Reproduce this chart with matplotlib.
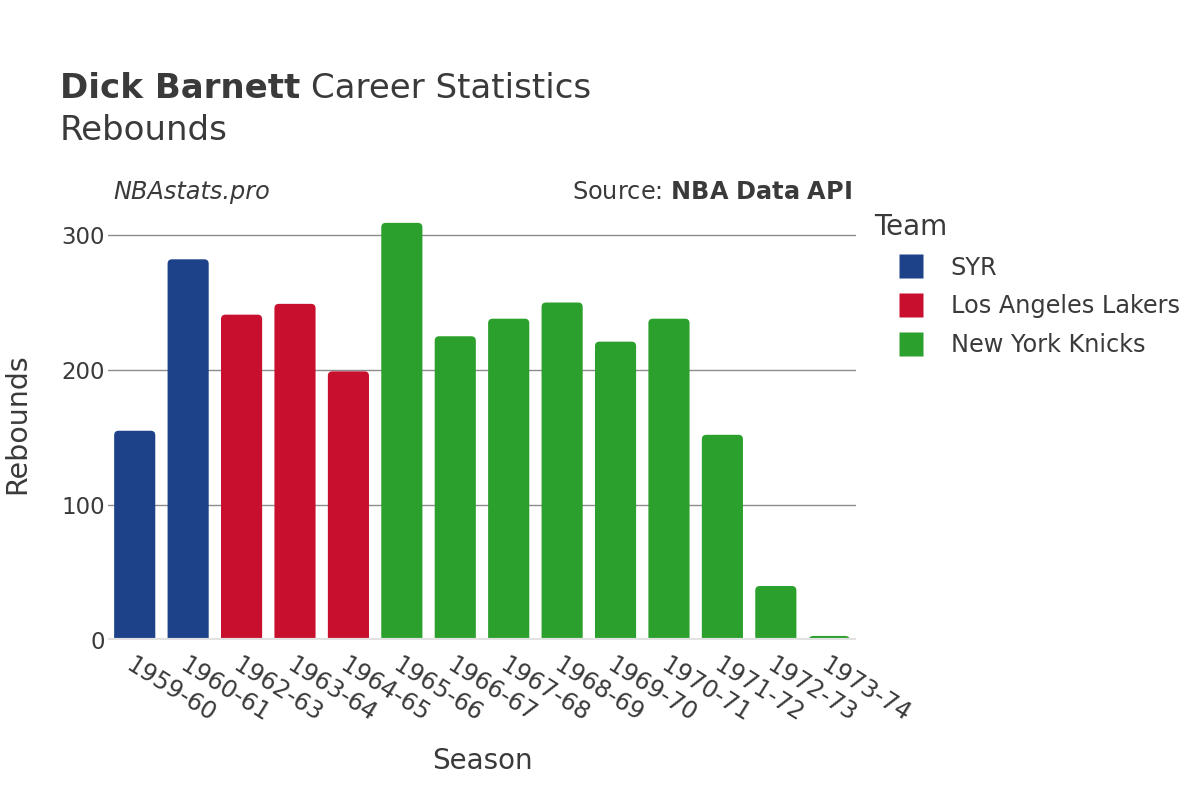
import matplotlib.pyplot as plt
from matplotlib.patches import FancyBboxPatch
from matplotlib.lines import Line2D

# data
seasons = ["1959-60", "1960-61", "1962-63", "1963-64", "1964-65", "1965-66", "1966-67",
           "1967-68", "1968-69", "1969-70", "1970-71", "1971-72", "1972-73", "1973-74"]
rebounds = [155, 282, 241, 249, 199, 309, 225, 238, 250, 221, 238, 152, 40, 3]
teams = ["SYR", "SYR", "Los Angeles Lakers", "Los Angeles Lakers", "Los Angeles Lakers",
         "New York Knicks", "New York Knicks", "New York Knicks", "New York Knicks",
         "New York Knicks", "New York Knicks", "New York Knicks", "New York Knicks",
         "New York Knicks"]
team_order = ["SYR", "Los Angeles Lakers", "New York Knicks"]
team_colors = {"SYR": "#1D428A", "Los Angeles Lakers": "#C8102E", "New York Knicks": "#2CA02C"}

txt = "#3a3a3a"
plt.rcParams['font.family'] = ['DejaVu Sans']

fig = plt.figure(figsize=(12, 8), dpi=100)
ax = fig.add_axes([0.09, 0.2, 0.6233, 0.54])

ymax = 320
x = list(range(len(seasons)))
ax.set_xlim(-0.5, len(seasons) - 0.5)
ax.set_ylim(0, ymax)

# px per data unit, to get round corners that look round
px_x = 0.6233 * 1200 / len(seasons)
px_y = 0.54 * 800 / ymax
r_px = 4.5
bw = 0.77
for i, v in enumerate(rebounds):
    c = team_colors[teams[i]]
    p = FancyBboxPatch((i - bw / 2, -r_px / px_y), bw, v + r_px / px_y,
                       boxstyle="round,pad=0,rounding_size=%f" % (r_px / px_x),
                       mutation_aspect=px_x / px_y, fc=c, ec="none", zorder=3)
    ax.add_patch(p)

ax.set_yticks([0, 100, 200, 300])
ax.yaxis.grid(True, color="#8c8c8c", lw=1, zorder=0)
ax.axhline(0, color="#e2e2e2", lw=3, zorder=4)
for s in ax.spines.values():
    s.set_visible(False)
ax.tick_params(axis="both", length=0, labelcolor=txt)
ax.tick_params(axis="y", pad=2, labelsize=16.5)
ax.set_xticks(x)
ax.set_xticklabels(seasons, rotation=-32, ha="left", va="top", rotation_mode="anchor")
ax.tick_params(axis="x", pad=9, labelsize=17.3)

ax.set_xlabel("Season", fontsize=20, color=txt, labelpad=15)
ax.set_ylabel("Rebounds", fontsize=20.5, color=txt)
ax.yaxis.set_label_coords(-0.103, 0.5)

t1 = fig.text(60 / 1200, 1 - 88 / 800, "Dick Barnett", fontsize=24.5, color=txt, va="center",
              fontweight="bold")
fig.canvas.draw()
bb = t1.get_window_extent()
fig.text(bb.x1 / 1200 + 0.009, 1 - 88 / 800, "Career Statistics", fontsize=24.5, color=txt,
         va="center")
fig.text(60 / 1200, 1 - 131 / 800, "Rebounds", fontsize=24.5, color=txt, va="center")

fig.text(113 / 1200, 1 - 192 / 800, "NBAstats.pro", fontsize=17.3, color=txt, va="center",
         style="italic")
fig.text(852 / 1200, 1 - 192 / 800, r"Source: $\bf{NBA\ Data\ API}$", fontsize=17.3, color=txt,
         va="center", ha="right")

handles = [Line2D([], [], ls="none", marker="s", ms=17, mfc=team_colors[t], mec="none")
           for t in team_order]
leg = fig.legend(handles, team_order, title="Team", loc="upper left",
                 bbox_to_anchor=(865 / 1200, 1 - 203 / 800), frameon=False,
                 fontsize=17.3, title_fontsize=20, labelspacing=0.62, handlelength=3,
                 handletextpad=0.17, borderaxespad=0)
leg._legend_box.align = "left"
for t in leg.get_texts():
    t.set_color(txt)
leg.get_title().set_color(txt)

fig.savefig("out.png", dpi=100)
